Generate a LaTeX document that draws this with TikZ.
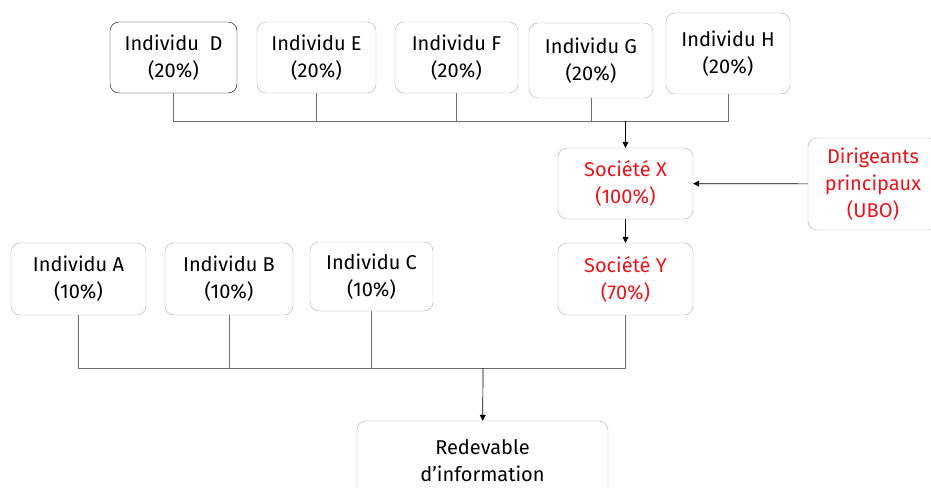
\documentclass[tikz,border=0pt]{standalone}
\usepackage{fontspec}
\setmainfont{Fira Sans}
\usetikzlibrary{arrows.meta}

\definecolor{boxgray}{RGB}{175,175,175}
\definecolor{linegray}{RGB}{110,110,110}
\definecolor{ubored}{RGB}{232,20,27}

\begin{document}
\begin{tikzpicture}[
    x=1pt,y=-1pt,
    every node/.style={
        draw=boxgray,rounded corners=9pt,align=center,
        font=\fontsize{20}{27}\selectfont,inner sep=0pt
    },
    box/.style 2 args={minimum width=#1,minimum height=#2},
    key/.style={text=ubored},
    link/.style={draw=linegray,line width=0.7pt},
    flow/.style={
        draw=black,line width=0.7pt,
        -{Triangle[length=6pt,width=6pt]}
    }
]
    \useasboundingbox (0,0) rectangle (931,487);

    % owners of Société X
    \node (indD) [box={127pt}{71pt},draw=black] at (173.5,57.5) {Individu~~D\\(20\%)};
    \node (indE) [box={119pt}{71pt}] at (316.5,57.5) {Individu E\\(20\%)};
    \node (indF) [box={123pt}{71pt}] at (456.5,57.5) {Individu F\\(20\%)};
    \node (indG) [box={124pt}{75pt}] at (591,60.5) {Individu G\\(20\%)};
    \node (indH) [box={124pt}{81pt}] at (728,53.5) {Individu H\\(20\%)};

    % companies
    \node (socX) [box={135pt}{71pt},key] at (625.5,183.5) {Société X\\(100\%)};
    \node (socY) [box={135pt}{72pt},key] at (625.5,279) {Société Y\\(70\%)};
    \node (ubo) [box={130pt}{92pt},key] at (873,184) {Dirigeants\\principaux\\(UBO)};

    % owners of the declarant
    \node (indA) [box={135pt}{72pt}] at (78.5,279) {Individu A\\(10\%)};
    \node (indB) [box={128pt}{72pt}] at (229,279) {Individu B\\(10\%)};
    \node (indC) [box={123pt}{69pt}] at (371.5,276.5) {Individu C\\(10\%)};

    \node (redev) [box={251pt}{80pt}] at (482.5,461) {Redevable\\d’information};

    \coordinate (topbus) at (625.5,121);
    \coordinate (botbus) at (483,368);

    \foreach \n in {indD,indE,indF,indG,indH}
        \draw [link] (\n.south) |- (topbus);
    \draw [flow] (topbus) -- (socX);
    \draw [flow] (socX) -- (socY);
    \draw [flow] (ubo) -- (socX);

    \foreach \n in {indA,indB,indC,socY}
        \draw [link] (\n.south) |- (botbus);
    \draw [flow] (botbus) -- (redev);

\end{tikzpicture}
\end{document}
